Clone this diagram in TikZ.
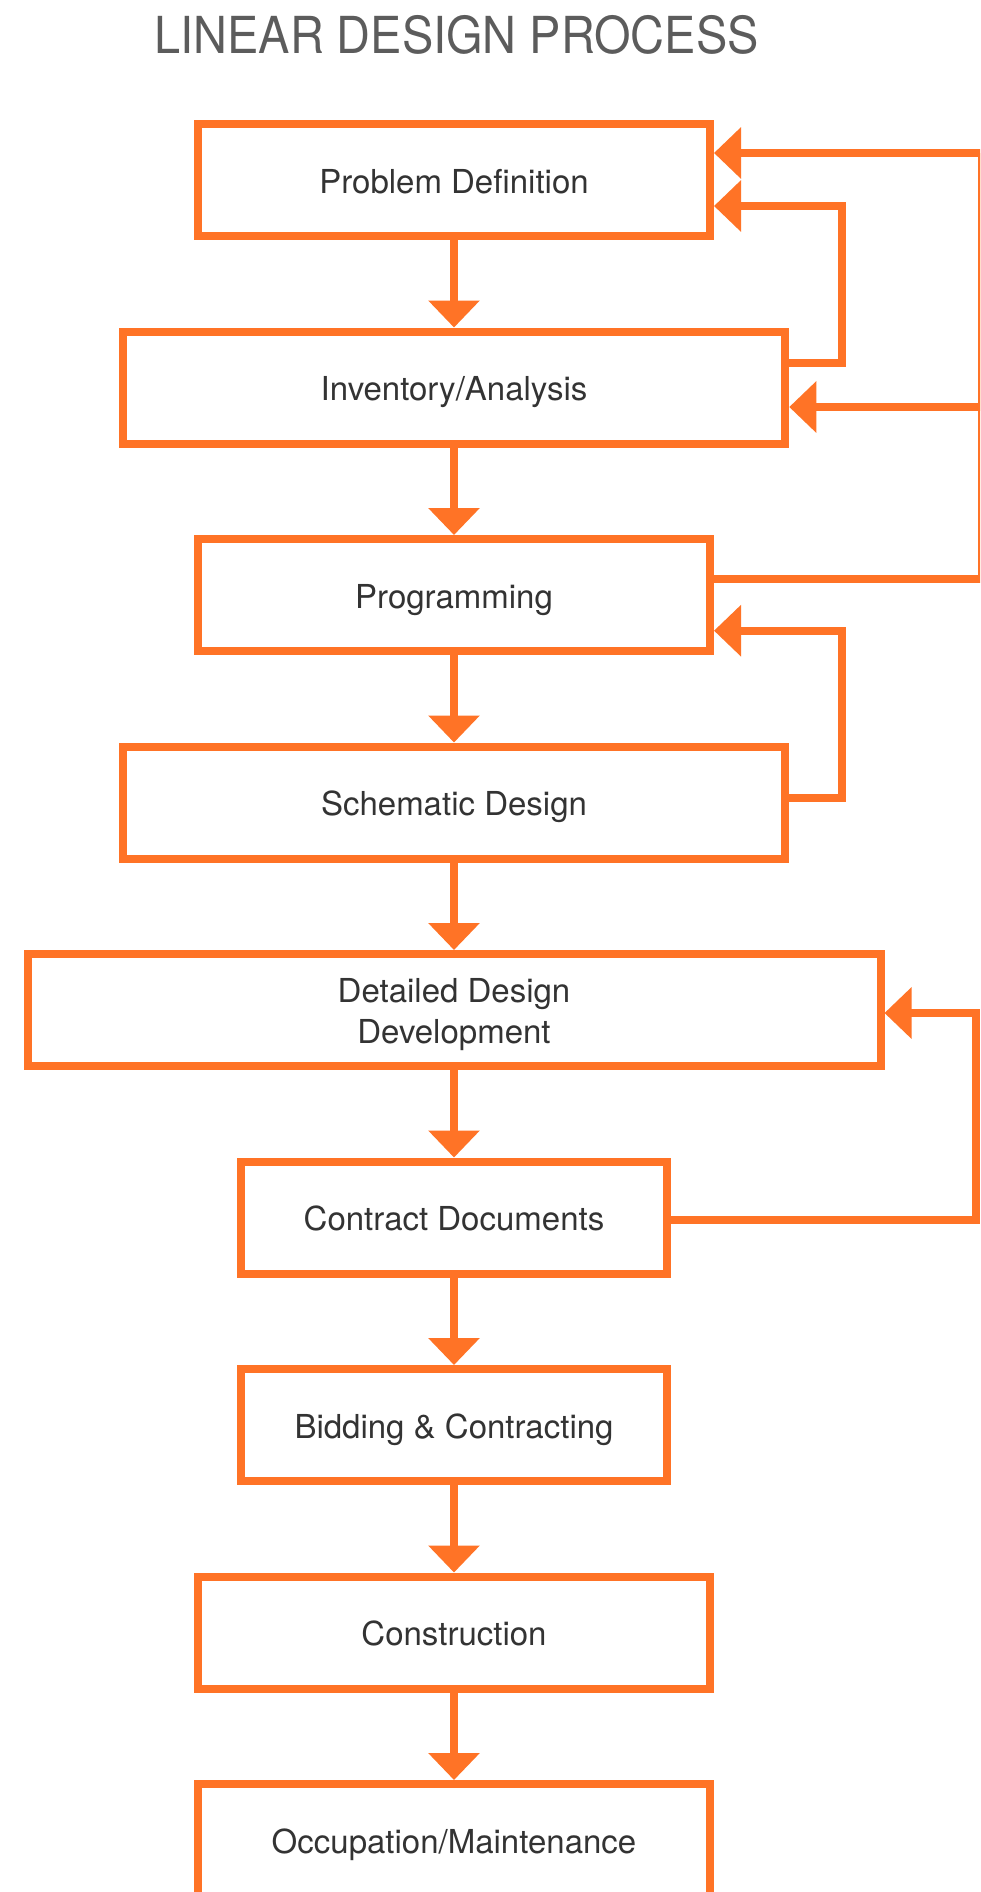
\documentclass[tikz,border=0pt]{standalone}
\usepackage{fontspec}
\setmainfont{TeX Gyre Heros}
\usepackage{graphicx}
\usepackage{tikz}
\usetikzlibrary{arrows.meta}
\usepackage{xcolor}
\definecolor{stepor}{HTML}{FF7326}
\definecolor{steptxt}{HTML}{333333}
\definecolor{titlegr}{HTML}{5C5C5C}

\tikzset{
  boxbase/.style={draw=stepor, line width=8pt, rectangle, inner sep=0pt,
    minimum height=112pt, text=steptxt, align=center,
    font=\fontsize{33}{41}\selectfont},
  stepbox/.style={boxbase, text height=26.6pt, text depth=0pt},
  flow/.style={draw=stepor, line width=8pt, -{Triangle[length=27pt,width=50pt]}}
}

\begin{document}
\begin{tikzpicture}[x=1pt,y=-1pt]
\clip (0,0) rectangle (980,1892);
\fill[white] (0,0) rectangle (980,1892);

\node[text=titlegr, font=\fontsize{51}{51}\selectfont] (title) at (456.5,35.3)
  {\scalebox{0.92}[1]{LINEAR DESIGN PROCESS}};

\node[stepbox, minimum width=512pt] (prob) at (454,180) {Problem Definition};
\node[stepbox, minimum width=662.5pt] (inv) at (454,387.5) {Inventory/Analysis};
\node[stepbox, minimum width=512pt] (prog) at (454,595) {Programming};
\node[stepbox, minimum width=662.5pt] (schem) at (454,802.5) {Schematic Design};
\node[boxbase, minimum width=853pt, text height=66.5pt, text depth=0pt] (detail)
  at (454,1010) {Detailed Design\\Development};
\node[stepbox, minimum width=426pt] (contr) at (454,1217.5) {Contract Documents};
\node[stepbox, minimum width=426pt] (bid) at (454,1425) {Bidding \& Contracting};
\node[stepbox, minimum width=512pt] (constr) at (454,1632.5) {Construction};
\node[stepbox, minimum width=512pt] (occ) at (454,1840) {Occupation/Maintenance};

\foreach \a/\b in {prob/inv, inv/prog, prog/schem, schem/detail, detail/contr,
  contr/bid, bid/constr, constr/occ}
  \draw[flow] (\a.south) -- (\b.north);

\coordinate (bendA) at (842,206);
\coordinate (bendB) at (842,630.7);
\coordinate (bendC) at (982,153);
\coordinate (bendD) at (976,1013);

\draw[flow] ([yshift=24.5pt]inv.east) -| (bendA) -- ([yshift=-26pt]prob.east);
\draw[flow] ([yshift=5pt]schem.east) -| (bendB) -- ([yshift=-35.7pt]prog.east);
\draw[flow] ([yshift=16.3pt]prog.east) -| (bendC) -- ([yshift=27pt]prob.east);
\draw[flow] (bendC) |- ([yshift=-19.5pt]inv.east);
\draw[flow] ([yshift=-2.5pt]contr.east) -| (bendD) -- ([yshift=-3pt]detail.east);
\end{tikzpicture}
\end{document}
